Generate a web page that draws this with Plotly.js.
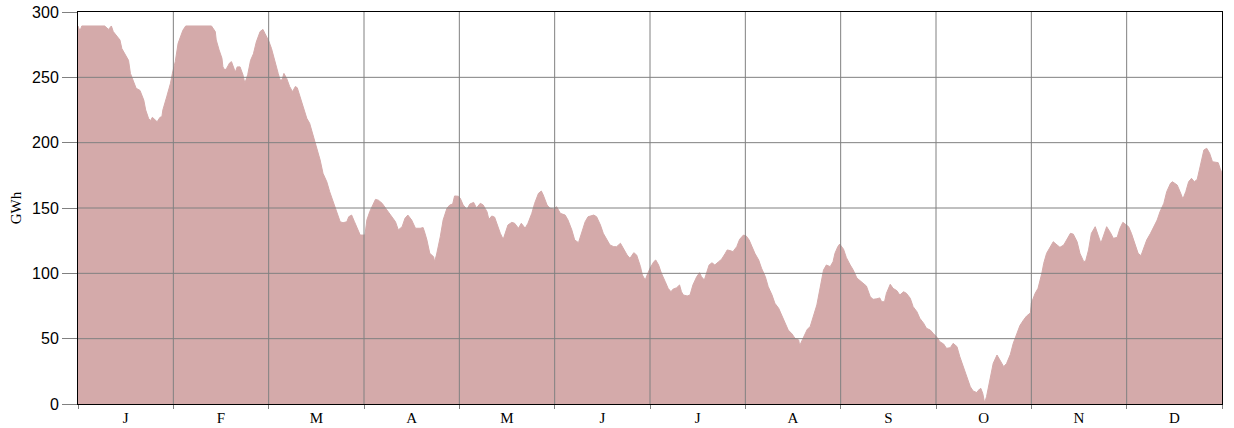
<!DOCTYPE html>
<html>
<head>
<meta charset="utf-8">
<script src="https://cdn.plot.ly/plotly-3.0.1.min.js"></script>
<style>html,body{margin:0;padding:0;background:#fff;}#chart{width:1234px;height:428px;}</style>
</head>
<body>
<div id="chart"></div>
<script>
// Month labels (each month takes one unit on the x axis)
const months = ["J","F","M","A","M","J","J","A","S","O","N","D"];
const yTicks = [0, 50, 100, 150, 200, 250, 300];

// Position in the year, in months from 1 January (0 .. 12)
const pos = [
0.00,0.02,0.04,0.28,0.32,0.35,0.37,0.41,0.44,0.46,0.49,0.53,0.55,0.58,0.61,0.65,0.69,0.71,0.74,0.76,
0.78,0.83,0.86,0.88,0.89,0.93,0.97,0.99,1.02,1.05,1.08,1.10,1.13,1.40,1.44,1.45,1.48,1.51,1.52,1.54,
1.56,1.59,1.61,1.63,1.65,1.67,1.70,1.73,1.75,1.78,1.81,1.84,1.87,1.91,1.94,1.96,2.00,2.03,2.05,2.08,
2.10,2.12,2.14,2.16,2.19,2.22,2.25,2.28,2.30,2.33,2.36,2.40,2.43,2.47,2.50,2.54,2.57,2.61,2.64,2.68,
2.71,2.75,2.78,2.82,2.84,2.87,2.90,2.92,2.96,3.01,3.03,3.06,3.12,3.15,3.19,3.24,3.29,3.33,3.36,3.40,
3.43,3.46,3.50,3.54,3.59,3.62,3.64,3.66,3.69,3.73,3.74,3.76,3.80,3.83,3.87,3.90,3.93,3.95,3.99,4.01,
4.04,4.08,4.11,4.15,4.18,4.22,4.25,4.29,4.31,4.34,4.37,4.39,4.43,4.46,4.48,4.51,4.55,4.58,4.62,4.65,
4.69,4.72,4.76,4.79,4.83,4.86,4.88,4.92,4.95,4.99,5.02,5.06,5.11,5.14,5.18,5.21,5.25,5.28,5.32,5.35,
5.41,5.44,5.48,5.51,5.55,5.58,5.62,5.65,5.69,5.72,5.76,5.79,5.83,5.86,5.90,5.92,5.95,5.97,6.00,6.04,
6.06,6.09,6.12,6.16,6.19,6.22,6.24,6.28,6.31,6.33,6.35,6.39,6.42,6.45,6.49,6.52,6.54,6.57,6.60,6.62,
6.65,6.68,6.72,6.75,6.79,6.81,6.84,6.87,6.91,6.94,6.98,7.01,7.04,7.07,7.10,7.14,7.17,7.21,7.24,7.28,
7.31,7.35,7.38,7.42,7.45,7.49,7.52,7.56,7.57,7.60,7.63,7.65,7.68,7.71,7.75,7.78,7.82,7.85,7.89,7.92,
7.94,7.97,7.99,8.03,8.06,8.10,8.13,8.17,8.22,8.27,8.31,8.34,8.38,8.41,8.43,8.46,8.48,8.52,8.55,8.59,
8.62,8.66,8.69,8.73,8.76,8.80,8.83,8.87,8.90,8.94,8.97,9.01,9.04,9.08,9.11,9.15,9.18,9.22,9.25,9.29,
9.32,9.36,9.39,9.43,9.44,9.47,9.49,9.51,9.53,9.57,9.60,9.64,9.67,9.71,9.74,9.78,9.81,9.85,9.88,9.92,
9.95,9.99,10.00,10.04,10.07,10.11,10.13,10.16,10.20,10.23,10.27,10.30,10.34,10.37,10.41,10.44,10.48,10.51,10.55,10.57,
10.60,10.63,10.67,10.70,10.73,10.76,10.79,10.83,10.86,10.90,10.93,10.96,10.99,11.02,11.05,11.09,11.12,11.15,11.18,11.21,
11.25,11.28,11.32,11.35,11.39,11.42,11.46,11.48,11.53,11.56,11.59,11.62,11.65,11.68,11.71,11.74,11.76,11.79,11.81,11.84,
11.87,11.90,11.94,11.96,11.98,12.00
];

// Stored energy, GWh
const gwh = [
289.3,285.5,289.3,289.3,286.7,289.3,285,281,278.6,272,268,263,253,248,241.6,240,232.6,225,218.6,216.8,
219.4,216,219.4,219.9,225,235,245.4,253,262,276,282.4,286,289.3,289.3,285,278.6,271,264.6,258,255.6,
257,261,262,258,254,258,258,252,245.4,252,263,268,277,285,286.7,283.7,278,272,266,259,
253,248,248,253,249,243,239,243,242,235,227.5,218.6,214.8,204.6,196.9,186.7,176.5,170,162.5,153.6,
148.5,139.5,138.7,139.5,143.3,144.6,139.5,135.7,129.3,129.3,140.8,147.2,156.6,156,153.6,148.5,143.3,139.5,133.2,135.7,
142.1,144.6,140.8,134.5,134.5,135,130.6,125.5,115.3,112.7,108.9,114,128,140.8,149.8,152.3,153,159.2,159,157.4,
152.3,149,153,154.3,150,153.6,152.3,147.2,141.3,143.9,143,138.3,130.6,126,130.6,137,139,138.3,134.5,138.3,
134.5,138.3,145.9,153.6,161.2,163,160,152.3,149.8,149.3,151,145.9,144.6,140.8,133.2,125.5,123.5,130.6,139.5,143.3,
144.6,143.3,137,130.6,125.5,121.7,120.4,120.4,123,119.2,114,111.5,115.8,114,105.1,98.7,94.9,98.7,103.9,108.9,
110.2,106.4,100,93.6,88.5,85.9,87.8,89,91.1,85.9,83.4,82.7,83.4,91.1,97.4,100.5,97.4,94.9,101.2,106.4,
108.1,106.4,108.9,110.7,115.3,117.9,117.4,116.6,120.4,126,129.3,128.5,125.5,120.4,115.3,110.2,103.9,97.4,89.8,83.4,
77.1,73.2,68.1,61.8,56.6,53.6,50.3,49,44.6,49.4,54.1,57.2,59.2,66.8,75.8,87.2,102.5,106.4,105.1,108.9,
115.3,120.4,122.4,118.5,112,106.4,102.8,96.4,93.6,90.3,82.1,80.1,80.5,81.2,78.3,78.3,84.7,91.6,88.5,86.7,
83.4,85.9,84.7,80.9,74.5,70.6,65.6,61.8,57.9,56.6,54.1,51,47.7,45.9,42.6,43.1,46.4,43.9,36.2,27.3,
20.9,13.2,9.9,8.7,10.2,12,8.2,1,5.6,19.7,31.1,37.5,33.7,28.6,31,38,46.4,55,60,64.5,
67.3,69.7,77.1,84.7,88.5,100,107.7,115.3,120.9,124.2,121.7,119.9,121.7,125.5,130.6,130,124.2,115.3,108.9,109.5,
117.9,130.6,135.7,129.3,123,129.3,135.7,131.1,126.8,127.5,134.5,139,137,135.7,130.6,121.7,115.3,113.5,119.2,125.5,
130.6,134.5,140.8,147.2,153.6,162.5,168.9,170.1,167.6,162.5,156.9,162.5,170.1,172.7,170.1,171.9,179.1,188,194.4,195.7,
191.9,185.4,184.7,184.7,180.4,176.5
];

const GRID = '#808080';
const FILL = '#d4aaaa';

const shapes = [];
[50, 100, 150, 200, 250].forEach(v => shapes.push({
  type: 'line', xref: 'x', yref: 'y', x0: 0, x1: months.length, y0: v, y1: v,
  line: {color: GRID, width: 1}, layer: 'above'
}));
for (let i = 1; i < months.length; i++) {
  shapes.push({
    type: 'line', xref: 'x', yref: 'paper', x0: i, x1: i, y0: 0, y1: 1,
    line: {color: GRID, width: 1}, layer: 'above'
  });
}

const trace = {
  x: pos, y: gwh, type: 'scatter', mode: 'lines', fill: 'tozeroy',
  fillcolor: FILL, line: {color: FILL, width: 1}, hoverinfo: 'skip', showlegend: false
};

const layout = {
  width: 1234, height: 428,
  margin: {l: 78, r: 12, t: 12, b: 24, pad: 0},
  paper_bgcolor: '#fff', plot_bgcolor: '#fff',
  showlegend: false,
  shapes: shapes,
  xaxis: {
    range: [0, months.length], fixedrange: true,
    tickmode: 'array',
    tickvals: months.map((m, i) => i + 0.5), ticktext: months,
    ticks: '', showgrid: false, zeroline: false,
    showline: true, mirror: true, linecolor: '#000', linewidth: 1,
    tickfont: {family: 'Liberation Serif, Times New Roman, serif', size: 15, color: '#000'},
    minor: {tickmode: 'array', tickvals: months.map((m, i) => i).concat([months.length]),
            ticks: 'outside', ticklen: 4, tickcolor: GRID, tickwidth: 1, showgrid: false}
  },
  yaxis: {
    range: [0, 300], fixedrange: true,
    tickmode: 'array', tickvals: yTicks,
    ticks: 'outside', ticklen: 15, tickcolor: GRID, tickwidth: 1,
    showgrid: false, zeroline: false,
    showline: true, mirror: true, linecolor: '#000', linewidth: 1,
    tickfont: {family: 'Liberation Sans, Arial, sans-serif', size: 16, color: '#000'},
    title: {text: 'GWh', standoff: 6,
            font: {family: 'Liberation Serif, Times New Roman, serif', size: 15, color: '#000'}}
  }
};

Plotly.newPlot('chart', [trace], layout, {staticPlot: true, displayModeBar: false});
</script>
</body>
</html>
